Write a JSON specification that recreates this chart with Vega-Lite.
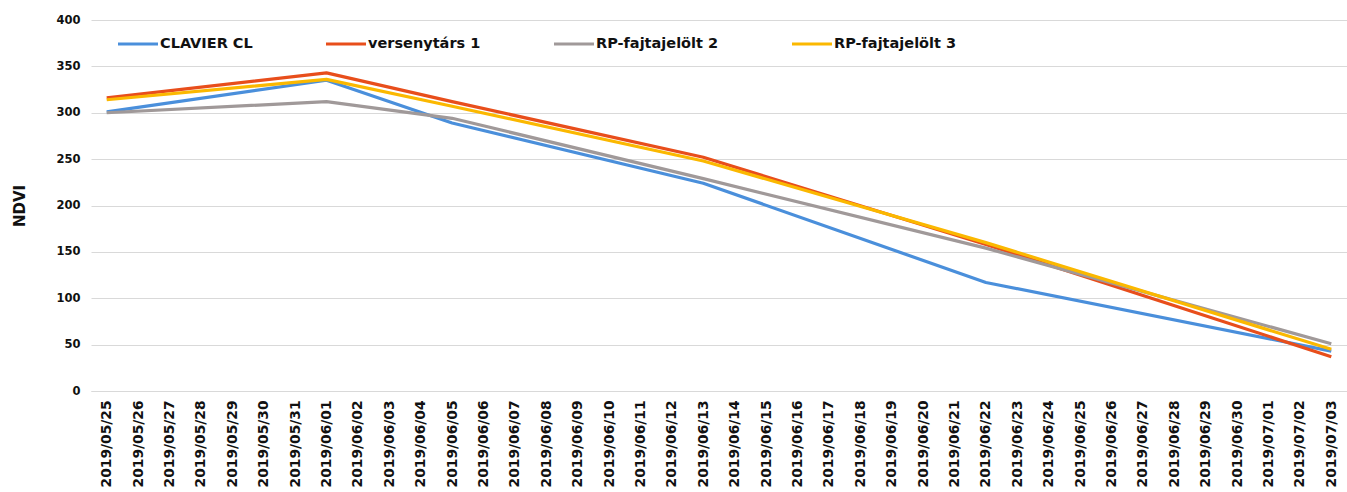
{
  "$schema": "https://vega.github.io/schema/vega-lite/v6.json",
  "autosize": {"type": "none"},
  "width": 1256,
  "height": 371,
  "padding": {"left": 91, "top": 20, "right": 0, "bottom": 101},
  "background": "white",
  "data": {
    "values": [
      {"date": "2019/05/25", "series": "CLAVIER CL", "ndvi": 301},
      {"date": "2019/06/01", "series": "CLAVIER CL", "ndvi": 335},
      {"date": "2019/06/05", "series": "CLAVIER CL", "ndvi": 289},
      {"date": "2019/06/13", "series": "CLAVIER CL", "ndvi": 224},
      {"date": "2019/06/22", "series": "CLAVIER CL", "ndvi": 117},
      {"date": "2019/07/03", "series": "CLAVIER CL", "ndvi": 43},
      {"date": "2019/05/25", "series": "versenytárs 1", "ndvi": 316},
      {"date": "2019/06/01", "series": "versenytárs 1", "ndvi": 343},
      {"date": "2019/06/05", "series": "versenytárs 1", "ndvi": 312},
      {"date": "2019/06/13", "series": "versenytárs 1", "ndvi": 252},
      {"date": "2019/06/22", "series": "versenytárs 1", "ndvi": 158},
      {"date": "2019/07/03", "series": "versenytárs 1", "ndvi": 37},
      {"date": "2019/05/25", "series": "RP-fajtajelölt 2", "ndvi": 300},
      {"date": "2019/06/01", "series": "RP-fajtajelölt 2", "ndvi": 312},
      {"date": "2019/06/05", "series": "RP-fajtajelölt 2", "ndvi": 294},
      {"date": "2019/06/13", "series": "RP-fajtajelölt 2", "ndvi": 229},
      {"date": "2019/06/22", "series": "RP-fajtajelölt 2", "ndvi": 154},
      {"date": "2019/07/03", "series": "RP-fajtajelölt 2", "ndvi": 51},
      {"date": "2019/05/25", "series": "RP-fajtajelölt 3", "ndvi": 314},
      {"date": "2019/06/01", "series": "RP-fajtajelölt 3", "ndvi": 336},
      {"date": "2019/06/05", "series": "RP-fajtajelölt 3", "ndvi": 307},
      {"date": "2019/06/13", "series": "RP-fajtajelölt 3", "ndvi": 248},
      {"date": "2019/06/22", "series": "RP-fajtajelölt 3", "ndvi": 160},
      {"date": "2019/07/03", "series": "RP-fajtajelölt 3", "ndvi": 45}
    ]
  },
  "mark": {"type": "line", "strokeWidth": 3.2, "strokeJoin": "round", "strokeCap": "butt"},
  "encoding": {
    "x": {
      "field": "date",
      "type": "ordinal",
      "sort": null,
      "scale": {
        "domain": ["2019/05/25","2019/05/26","2019/05/27","2019/05/28","2019/05/29","2019/05/30","2019/05/31","2019/06/01","2019/06/02","2019/06/03","2019/06/04","2019/06/05","2019/06/06","2019/06/07","2019/06/08","2019/06/09","2019/06/10","2019/06/11","2019/06/12","2019/06/13","2019/06/14","2019/06/15","2019/06/16","2019/06/17","2019/06/18","2019/06/19","2019/06/20","2019/06/21","2019/06/22","2019/06/23","2019/06/24","2019/06/25","2019/06/26","2019/06/27","2019/06/28","2019/06/29","2019/06/30","2019/07/01","2019/07/02","2019/07/03"],
        "padding": 0.5
      },
      "axis": {
        "title": null,
        "labelAngle": -90,
        "labelAlign": "right",
        "labelBaseline": "middle",
        "labelFont": "DejaVu Sans",
        "labelFontWeight": "bold",
        "labelFontSize": 13.8,
        "labelColor": "#111111",
        "labelPadding": 9,
        "ticks": false,
        "grid": false,
        "domainColor": "#D9D9D9",
        "domainWidth": 1,
        "labelOverlap": false
      }
    },
    "y": {
      "field": "ndvi",
      "type": "quantitative",
      "scale": {"domain": [0, 400], "nice": false},
      "axis": {
        "title": "NDVI",
        "titleFont": "DejaVu Sans",
        "titleFontWeight": "bold",
        "titleFontSize": 15,
        "titleColor": "#111111",
        "titlePadding": 28,
        "values": [0, 50, 100, 150, 200, 250, 300, 350, 400],
        "labelFont": "DejaVu Sans",
        "labelFontWeight": "bold",
        "labelFontSize": 11.5,
        "labelColor": "#111111",
        "labelPadding": 11,
        "ticks": false,
        "domain": false,
        "grid": true,
        "gridColor": "#D9D9D9",
        "gridWidth": 1
      }
    },
    "color": {
      "field": "series",
      "type": "nominal",
      "scale": {
        "domain": ["CLAVIER CL", "versenytárs 1", "RP-fajtajelölt 2", "RP-fajtajelölt 3"],
        "range": ["#4A8FDB", "#E84E1B", "#A09999", "#FBB800"]
      },
      "legend": {
        "title": null,
        "orient": "none",
        "legendX": 25,
        "legendY": 2,
        "direction": "horizontal",
        "columns": 4,
        "gridAlign": "none",
        "columnPadding": 66,
        "padding": 0,
        "symbolType": "stroke",
        "symbolSize": 1600,
        "symbolStrokeWidth": 3.2,
        "labelOffset": 0,
        "labelFont": "DejaVu Sans",
        "labelFontWeight": "bold",
        "labelFontSize": 14.5,
        "labelColor": "#111111",
        "labelLimit": 300
      }
    }
  },
  "config": {"view": {"stroke": null}}
}
